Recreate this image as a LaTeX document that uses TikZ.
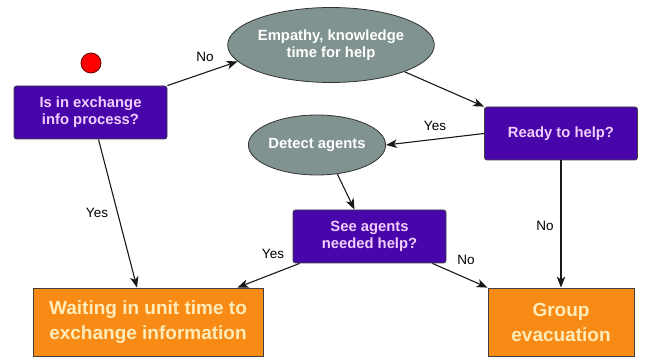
\documentclass[tikz,border=0pt]{standalone}
\usepackage{fontspec}
\setmainfont{Liberation Sans}
\usetikzlibrary{arrows.meta,shapes.geometric}

\definecolor{qpurple}{RGB}{72,6,170}
\definecolor{qtext}{RGB}{240,205,250}
\definecolor{stategray}{RGB}{128,147,144}
\definecolor{endorange}{RGB}{247,139,22}
\definecolor{endtext}{RGB}{255,236,185}

\tikzset{
    question/.style={draw=black!75, line width=0.8pt, fill=qpurple, rounded corners=2.5pt,
        minimum width=153pt, minimum height=53pt, inner sep=0pt, align=center,
        text=qtext, font=\bfseries\fontsize{14.8}{17}\selectfont},
    state/.style={draw=black!80, line width=0.8pt, ellipse, fill=stategray, inner sep=0pt,
        align=center, text=white, font=\bfseries\fontsize{14.8}{17}\selectfont},
    outcome/.style={draw=black!75, line width=0.8pt, fill=endorange, minimum height=68pt,
        inner sep=0pt, align=center, text=endtext, font=\bfseries\fontsize{19}{25}\selectfont},
    flow/.style={draw=black!90, line width=1.1pt, -{Stealth[length=11pt,width=8.5pt,inset=3pt]}},
    answer/.style={font=\fontsize{13.5}{15}\selectfont, text=black}
}

\begin{document}
\begin{tikzpicture}[x=1pt,y=-1pt]
    \useasboundingbox (0,0) rectangle (649,358);

    \node[circle, draw=red!40!black, line width=0.8pt, fill=red, minimum size=20pt, inner sep=0pt] (start) at (91,63) {};

    \node[question] (exch) at (90.5,112.5) {Is in exchange\\info process?};
    \node[state, minimum width=183pt, minimum height=75pt] (empathy) at (331,45) {Empathy, knowledge\\time for help};
    \node[question] (ready) at (561,133.5) {Ready to help?};
    \node[state, minimum width=137pt, minimum height=60pt] (detect) at (317,145) {Detect agents};
    \node[question] (seeag) at (369.5,236.5) {See agents\\needed help?};
    \node[outcome, minimum width=230pt] (wait) at (148,322) {Waiting in unit time to\\exchange information};
    \node[outcome, minimum width=146pt] (group) at (561,322) {Group\\evacuation};

    \draw[flow] (exch.north east) -- (empathy.190);
    \draw[flow] (empathy.-20) -- (ready.north west);
    \draw[flow] (ready.west) -- (detect.east);
    \draw[flow] (detect.-55) -- ([xshift=-15pt]seeag.north);
    \draw[flow] ([xshift=8pt]exch.south) -- ([xshift=-11pt]wait.north);
    \draw[flow] ([xshift=7pt]seeag.south west) -- ([xshift=-26pt]wait.north east);
    \draw[flow] ([xshift=-14pt]seeag.south east) -- (group.north west);
    \draw[flow] (ready.south) -- (group.north);

    \node[answer] (no1) at (205,57) {No};
    \node[answer] (yes1) at (435,126) {Yes};
    \node[answer] (yes2) at (97,213) {Yes};
    \node[answer] (yes3) at (273,254) {Yes};
    \node[answer] (no2) at (466,260) {No};
    \node[answer] (no3) at (545,226) {No};
\end{tikzpicture}
\end{document}
